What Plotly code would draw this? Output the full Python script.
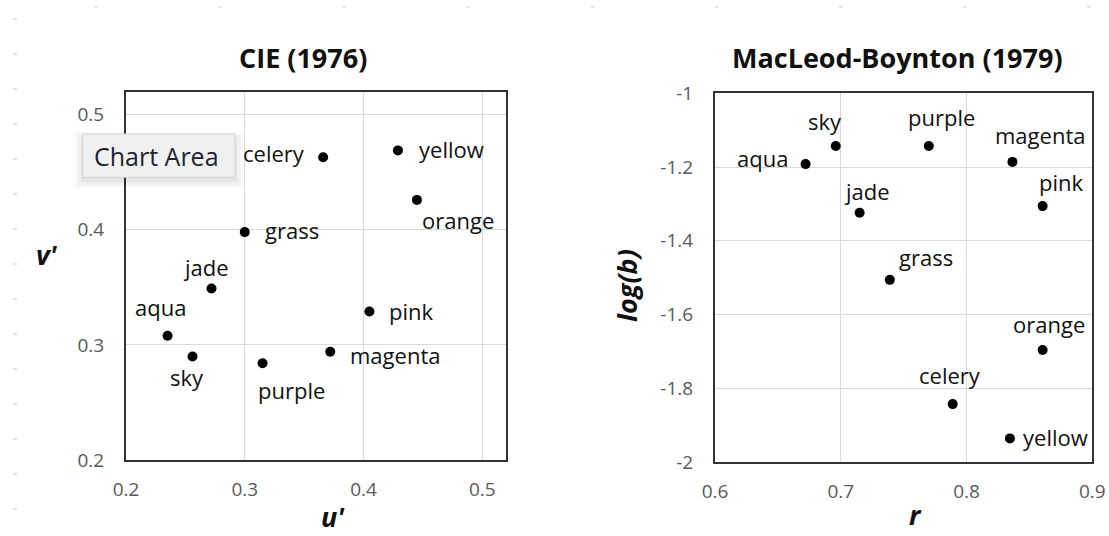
import plotly.graph_objects as go

# ---------------- data ----------------
color_names = ["aqua", "sky", "jade", "grass", "celery", "yellow", "orange", "pink", "magenta", "purple"]
cie_u = [0.235, 0.256, 0.272, 0.300, 0.366, 0.429, 0.445, 0.405, 0.372, 0.315]
cie_v = [0.308, 0.290, 0.349, 0.398, 0.463, 0.469, 0.426, 0.329, 0.294, 0.284]
mb_r = [0.672, 0.696, 0.715, 0.739, 0.789, 0.8345, 0.8605, 0.8605, 0.8365, 0.770]
mb_logb = [-1.192, -1.143, -1.324, -1.506, -1.843, -1.936, -1.696, -1.306, -1.186, -1.143]

cie_tickvals = [0.2, 0.3, 0.4, 0.5]
cie_ticktext = ["0.2", "0.3", "0.4", "0.5"]
mb_xtickvals = [0.6, 0.7, 0.8, 0.9]
mb_xticktext = ["0.6", "0.7", "0.8", "0.9"]
mb_ytickvals = [-2, -1.8, -1.6, -1.4, -1.2, -1]
mb_yticktext = ["-2", "-1.8", "-1.6", "-1.4", "-1.2", "-1"]

# label placement styles: (xanchor, dx px, dy px up)
cie_label_pos = {
    "aqua": ("center", -7, 29), "sky": ("center", -6, -21), "jade": ("center", -6, 22),
    "grass": ("left", 18, 2), "celery": ("right", -16, 4), "yellow": ("left", 19, 1),
    "orange": ("left", 3, -20), "pink": ("left", 18, 1), "magenta": ("left", 18, -3),
    "purple": ("left", -7, -27),
}
mb_label_pos = {
    "aqua": ("right", -16, 6), "sky": ("center", -11, 25), "jade": ("center", 7, 22),
    "grass": ("center", 36, 23), "celery": ("center", -3, 29), "yellow": ("left", 11, 1),
    "orange": ("center", 6, 26), "pink": ("center", 19, 24), "magenta": ("center", 28, 27),
    "purple": ("center", 13, 29),
}

# the page body margin is removed (post_script), so figure pixels == page pixels
W, H = 1109, 536
FONT = "Open Sans"
TICKC = "#595959"

def px(x):
    return x / W

def py(y):
    return 1 - y / H

fig = go.Figure()
fig.add_trace(go.Scatter(x=cie_u, y=cie_v, mode="markers", xaxis="x", yaxis="y",
                         marker=dict(size=10, color="black"), showlegend=False, hoverinfo="skip"))
fig.add_trace(go.Scatter(x=mb_r, y=mb_logb, mode="markers", xaxis="x2", yaxis="y2",
                         marker=dict(size=10, color="black"), showlegend=False, hoverinfo="skip"))

annotations = []
for name, xv, yv in zip(color_names, cie_u, cie_v):
    anc, dx, dy = cie_label_pos[name]
    annotations.append(dict(x=xv, y=yv, xref="x", yref="y", text=name, showarrow=False,
                            xanchor=anc, yanchor="middle", xshift=dx, yshift=dy,
                            font=dict(family=FONT, size=22, color="#111111")))
for name, xv, yv in zip(color_names, mb_r, mb_logb):
    anc, dx, dy = mb_label_pos[name]
    annotations.append(dict(x=xv, y=yv, xref="x2", yref="y2", text=name, showarrow=False,
                            xanchor=anc, yanchor="middle", xshift=dx, yshift=dy,
                            font=dict(family=FONT, size=22, color="#111111")))

# titles and axis titles
title_font = dict(family=FONT, size=27, color="#111111")
atitle_font = dict(family=FONT, size=27, color="#111111")
annotations += [
    dict(x=px(302.7), y=py(57.8), xref="paper", yref="paper", text="<b>CIE (1976)</b>",
         showarrow=False, xanchor="center", yanchor="middle", font=title_font),
    dict(x=px(897.5), y=py(57.8), xref="paper", yref="paper", text="<b>MacLeod-Boynton (1979)</b>",
         showarrow=False, xanchor="center", yanchor="middle", font=title_font),
    dict(x=px(332.5), y=py(516), xref="paper", yref="paper", text="<b><i>u'</i></b>",
         showarrow=False, xanchor="center", yanchor="middle", font=atitle_font),
    dict(x=px(46.7), y=py(254), xref="paper", yref="paper", text="<b><i>v'</i></b>",
         showarrow=False, xanchor="center", yanchor="middle", font=atitle_font),
    dict(x=px(915), y=py(514), xref="paper", yref="paper", text="<b><i>r</i></b>",
         showarrow=False, xanchor="center", yanchor="middle", font=atitle_font),
    dict(x=px(626), y=py(286), xref="paper", yref="paper", text="<b><i>log(b)</i></b>", textangle=-90,
         showarrow=False, xanchor="center", yanchor="middle", font=atitle_font),
    dict(x=px(156.5), y=py(156.2), xref="paper", yref="paper", text="Chart Area",
         showarrow=False, xanchor="center", yanchor="middle", font=dict(family=FONT, size=25, color="#22222e")),
]

shapes = []
# tooltip shadow + box
for i, a in enumerate([0.025, 0.035, 0.045]):
    g = 8 - 3 * i
    shapes.append(dict(type="rect", xref="paper", yref="paper", layer="above",
                       x0=px(82.7 - g), x1=px(235 + g), y0=py(177.3 + g + 3), y1=py(134 - g + 6),
                       fillcolor="rgba(0,0,0,%g)" % a, line=dict(width=0)))
shapes.append(dict(type="rect", xref="paper", yref="paper", layer="above",
                   x0=px(82.7), x1=px(235), y0=py(177.3), y1=py(134),
                   fillcolor="#f0f0f0", line=dict(color="#d2d2d2", width=1)))
# faint spreadsheet cell marks
for k in range(15):
    yy = 19 + 35 * k
    shapes.append(dict(type="line", xref="paper", yref="paper", x0=px(13), x1=px(17), y0=py(yy), y1=py(yy),
                       line=dict(color="#c9c9c9", width=1)))
for k in range(9):
    xx = 96 + 124.1 * k
    shapes.append(dict(type="line", xref="paper", yref="paper", x0=px(xx - 1.5), x1=px(xx + 1.5), y0=py(7), y1=py(7),
                       line=dict(color="#c9c9c9", width=1)))

axis_common = dict(showline=True, linecolor="#333333", linewidth=2, mirror=True,
                   showgrid=True, gridcolor="#d9d9d9", gridwidth=1, zeroline=False,
                   ticks="outside", tickcolor="rgba(0,0,0,0)", automargin=False,
                   tickfont=dict(family=FONT, size=19, color=TICKC), tickmode="array")
XT = dict(ticklen=11, **axis_common)
YT = dict(ticklen=16, **axis_common)

fig.update_layout(
    width=W, height=H, margin=dict(l=0, r=0, t=0, b=0, autoexpand=False),
    paper_bgcolor="white", plot_bgcolor="white", showlegend=False,
    xaxis=dict(domain=[px(126), px(506)], range=[0.2, 0.52], anchor="y",
               tickvals=cie_tickvals, ticktext=cie_ticktext, **XT),
    yaxis=dict(domain=[py(460), py(91.7)], range=[0.2, 0.52], anchor="x",
               tickvals=cie_tickvals, ticktext=cie_ticktext, **YT),
    xaxis2=dict(domain=[px(715), px(1092.3)], range=[0.6, 0.9], anchor="y2",
                tickvals=mb_xtickvals, ticktext=mb_xticktext, **XT),
    yaxis2=dict(domain=[py(462), py(93.3)], range=[-2, -1], anchor="x2",
                tickvals=mb_ytickvals, ticktext=mb_yticktext, **YT),
    annotations=annotations, shapes=shapes,
)

fig.write_html("out.html", config={"displayModeBar": False},
               post_script="document.body.style.margin='0px';document.body.style.overflow='hidden';")
